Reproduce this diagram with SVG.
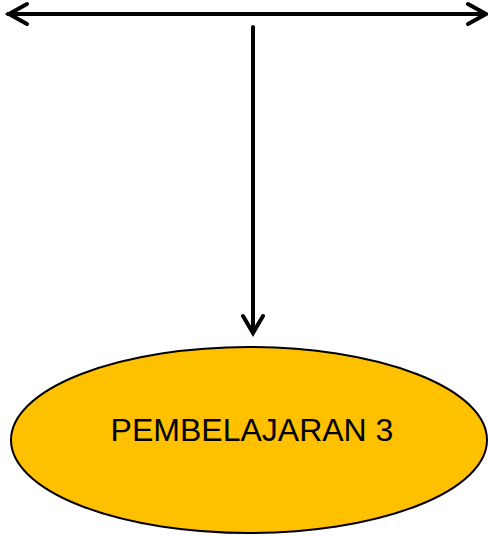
<svg xmlns="http://www.w3.org/2000/svg" width="488" height="536" viewBox="0 0 488 536">
<style>
.conn{stroke:#000;stroke-width:4;fill:none;stroke-linecap:round;stroke-linejoin:miter}
.node{fill:#FFC000;stroke:#000;stroke-width:2}
.label{font-family:"Liberation Sans",Arial,sans-serif;font-size:32px;fill:#000}
</style>
<rect width="488" height="536" fill="#fff"/>
<g id="connectors">
<path class="conn" d="M8,14 H481"/>
<path class="conn" d="M27,4 L9,14 L27,24"/>
<path class="conn" d="M468,4 L486,14 L468,24"/>
<path class="conn" d="M253,27 V332"/>
<path class="conn" d="M243,316 L253,333 L263,316"/>
</g>
<g id="pembelajaran3">
<ellipse class="node" cx="249" cy="440" rx="238" ry="93"/>
<text class="label" x="252" y="441" text-anchor="middle">PEMBELAJARAN 3</text>
</g>
</svg>
